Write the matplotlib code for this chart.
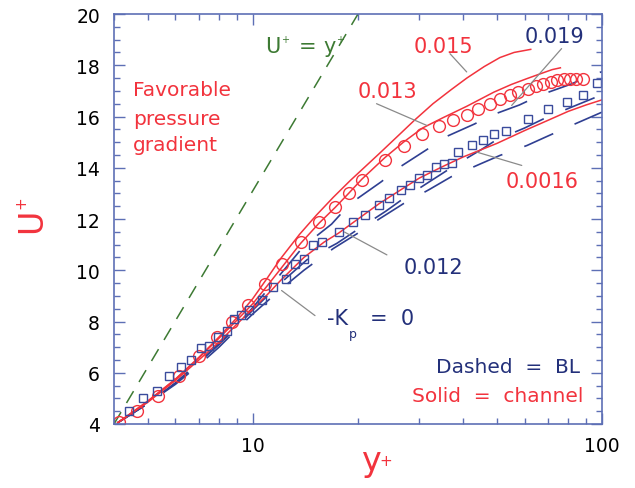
import matplotlib
matplotlib.use("Agg")
import matplotlib.pyplot as plt
from matplotlib.ticker import FixedLocator, FixedFormatter, MultipleLocator, LogLocator, NullFormatter

# ---------------- data ----------------
circ_x = [4.13, 4.64, 5.33, 6.15, 7.02, 7.9, 8.69, 9.66, 10.8, 12.1, 13.7, 15.5, 17.2, 18.8,
          20.5, 23.9, 27.1, 30.6, 34.1, 37.5, 41.0, 44.2, 47.8, 51.0, 54.5, 57.5, 61.2, 64.5,
          67.9, 71.3, 74.5, 77.8, 81.0, 84.3, 88.1]
circ_y = [4.08, 4.5, 5.1, 5.89, 6.67, 7.39, 8.0, 8.65, 9.47, 10.25, 11.1, 11.88, 12.47, 13.0,
          13.54, 14.29, 14.83, 15.3, 15.61, 15.85, 16.07, 16.3, 16.5, 16.67, 16.82, 16.95, 17.09,
          17.19, 17.28, 17.35, 17.41, 17.45, 17.48, 17.48, 17.48]

sq_x = [4.41, 4.85, 5.32, 5.75, 6.21, 6.64, 7.08, 7.5, 7.96, 8.41, 8.83, 9.23, 9.76, 10.6, 11.4,
        12.4, 13.2, 14.0, 14.9, 15.8, 17.6, 19.4, 21.0, 22.9, 24.6, 26.6, 28.2, 30.0, 31.6, 33.4,
        35.3, 37.1, 38.7, 42.3, 45.7, 49.1, 53.1, 61.5, 70.2, 79.2, 88.5, 96.6]
sq_y = [4.5, 5.0, 5.3, 5.86, 6.21, 6.51, 6.97, 7.03, 7.39, 7.64, 8.1, 8.26, 8.43, 8.82, 9.34,
        9.66, 10.25, 10.42, 11.0, 11.1, 11.49, 11.9, 12.16, 12.53, 12.82, 13.15, 13.34, 13.6,
        13.73, 14.03, 14.13, 14.18, 14.61, 14.87, 15.07, 15.33, 15.43, 15.89, 16.3, 16.56,
        16.85, 17.32]

# solid = channel
ch015_x = [4.1, 5, 6, 7, 8, 9, 10, 11, 12, 13.6, 15.2, 17, 19, 21, 23, 26.3, 29, 32.8, 37, 41,
           46, 51, 56, 62.5]
ch015_y = [4.05, 4.9, 5.75, 6.6, 7.4, 8.15, 8.9, 9.7, 10.45, 11.4, 12.15, 12.85, 13.5, 14.05,
           14.55, 15.3, 15.85, 16.5, 17.05, 17.5, 17.95, 18.3, 18.5, 18.62]

ch013_x = [4.1, 5, 6, 7, 8, 9, 10, 11, 12, 13.7, 15.5, 17.2, 18.8, 20.5, 23.9, 27, 30.6, 35,
           41, 49, 55, 61, 67, 72, 76]
ch013_y = [4.05, 4.88, 5.75, 6.58, 7.35, 8.05, 8.7, 9.4, 10.05, 11.05, 11.85, 12.45, 13.0,
           13.55, 14.4, 15.0, 15.55, 15.95, 16.4, 16.95, 17.25, 17.48, 17.68, 17.83, 17.9]

ch0016_x = [4.1, 5, 6, 7, 8, 9, 10, 11, 12, 14, 16, 17.6, 20, 23, 26.6, 30, 35, 40, 45, 50,
            60, 70, 80, 90, 100]
ch0016_y = [4.05, 4.85, 5.7, 6.5, 7.2, 7.9, 8.5, 9.05, 9.6, 10.5, 11.1, 11.45, 12.0, 12.6,
            13.15, 13.6, 14.05, 14.42, 14.7, 14.95, 15.45, 15.85, 16.2, 16.45, 16.65]

# dashed = boundary layer
bl019_x = [4.1, 5, 6, 7, 8, 9, 10, 12, 14, 16.8, 19, 23.3, 26.5, 32, 36, 43, 49.4, 58, 67, 81,
           93, 100]
bl019_y = [4.05, 4.8, 5.6, 6.4, 7.15, 7.85, 8.55, 9.85, 10.95, 11.8, 12.6, 13.45, 14.05, 14.77,
           15.23, 15.7, 16.1, 16.45, 16.85, 17.25, 17.6, 17.75]

bl012_x = [4.1, 5, 6, 7, 8, 9, 10, 12, 14.4, 17.4, 20, 24, 27, 32, 39, 45, 50, 60, 69, 83, 100]
bl012_y = [4.05, 4.8, 5.6, 6.4, 7.1, 7.8, 8.45, 9.5, 10.45, 11.05, 11.6, 12.3, 12.8, 13.45,
           14.2, 14.7, 15.1, 15.55, 15.95, 16.4, 16.85]

bl0_x = [4.1, 5, 6, 7, 8, 9, 10, 12, 14, 17, 20, 23, 27, 32, 37, 45, 51, 61, 69, 84, 100]
bl0_y = [4.05, 4.8, 5.55, 6.3, 7.0, 7.7, 8.3, 9.25, 10.0, 10.85, 11.45, 12.0, 12.6, 13.15,
         13.65, 14.16, 14.48, 14.87, 15.2, 15.72, 16.17]

# viscous sublayer U+ = y+
visc_x = [4, 20]
visc_y = [4, 20]

xtick_vals = [10, 100]
xtick_labels = ['10', '100']
ytick_vals = [4, 6, 8, 10, 12, 14, 16, 18, 20]
ytick_labels = ['4', '6', '8', '10', '12', '14', '16', '18', '20']

# ---------------- style ----------------
RED = '#f2333d'
NAVY = '#23307a'
BLUE = '#2f3f92'
SQ = '#3a4b9c'
GREEN = '#3d7a33'
SPINE = '#5d6fb5'
GRAY = '#8a8a8a'

plt.rcParams['font.family'] = ['DejaVu Sans']

fig = plt.figure(figsize=(6.35, 4.89), dpi=100)
ax = fig.add_axes([114/635, 1-425/489, (602-114)/635, (425-15)/489])
ax.set_xscale('log')
ax.set_xlim(4, 100)
ax.set_ylim(4, 20)

# lines
ax.plot(visc_x, visc_y, color=GREEN, lw=1.1, linestyle=(0, (9, 7)))
dash = (0, (19, 14))
for xs, ys in [(bl0_x, bl0_y), (bl012_x, bl012_y), (bl019_x, bl019_y)]:
    ax.plot(xs, ys, color=BLUE, lw=1.2, linestyle=dash)
for xs, ys in [(ch0016_x, ch0016_y), (ch013_x, ch013_y), (ch015_x, ch015_y)]:
    ax.plot(xs, ys, color=RED, lw=1.1)
ax.plot(circ_x, circ_y, linestyle='none', marker='o', ms=8.5, mfc='none', mec=RED, mew=1.0)
ax.plot(sq_x, sq_y, linestyle='none', marker='s', ms=6, mfc='none', mec=SQ, mew=1.0)

# leader lines
leaders = [((36.7, 18.45), (40.96, 17.74)),
           ((22.6, 16.5), (31.5, 15.65)),
           ((76.6, 18.65), (55.1, 16.43)),
           ((58.9, 14.09), (43.8, 14.61)),
           ((24.2, 10.6), (18.3, 11.49)),
           ((15.06, 8.23), (12.08, 9.21))]
for start, end in leaders:
    ax.annotate('', xy=end, xytext=start,
                arrowprops=dict(arrowstyle='-', color=GRAY, lw=0.9, shrinkA=0, shrinkB=0))


def tiny(artist, txt, frac, offset, color, size, rot=0, ha='left', va='bottom'):
    ax.annotate(txt, xy=frac, xycoords=artist, xytext=offset, textcoords='offset points',
                color=color, fontsize=size, rotation=rot, ha=ha, va=va)


# labels
fs = 15
ax.text(35.2, 18.77, '0.015', color=RED, fontsize=fs, ha='center', va='center')
ax.text(72.9, 19.14, '0.019', color=NAVY, fontsize=fs, ha='center', va='center')
ax.text(24.3, 16.99, '0.013', color=RED, fontsize=fs, ha='center', va='center')
ax.text(67.5, 13.5, '0.0016', color=RED, fontsize=fs, ha='center', va='center')
ax.text(32.8, 10.13, '0.012', color=NAVY, fontsize=fs, ha='center', va='center')

tk = ax.text(16.26, 7.91, '-K', color=NAVY, fontsize=fs, ha='left', va='baseline')
tiny(tk, 'p', (1, 0), (1, -9), NAVY, 9, va='bottom')
ax.text(21.6, 7.91, '=  0', color=NAVY, fontsize=fs, ha='left', va='baseline')

tu = ax.text(10.82, 18.52, 'U', color=GREEN, fontsize=fs, ha='left', va='baseline')
tiny(tu, '+', (1, 1), (0.5, -6), GREEN, 7, va='bottom')
ax.text(14.38, 18.52, '=', color=GREEN, fontsize=fs, ha='center', va='baseline')
ty = ax.text(15.87, 18.52, 'y', color=GREEN, fontsize=fs, ha='left', va='baseline')
tiny(ty, '+', (1, 1), (0.5, -6), GREEN, 7, va='bottom')

ax.text(4.53, 16.82, 'Favorable', color=RED, fontsize=14.5, ha='left', va='baseline')
ax.text(4.53, 15.72, 'pressure', color=RED, fontsize=14.5, ha='left', va='baseline')
ax.text(4.53, 14.68, 'gradient', color=RED, fontsize=14.5, ha='left', va='baseline')
ax.text(86.5, 6.02, 'Dashed  =  BL', color=NAVY, fontsize=14.5, ha='right', va='baseline')
ax.text(88.4, 4.91, 'Solid  =  channel', color=RED, fontsize=14.5, ha='right', va='baseline')

# axes labels
yl = fig.text(31.5/635, 1-221/489, 'U', color=RED, fontsize=24, rotation=90,
              ha='center', va='center')
fig.text(21/635, 1-203/489, '+', color=RED, fontsize=11, rotation=90,
         ha='center', va='center')
xl = fig.text(371/635, 1-471/489, 'y', color=RED, fontsize=24, ha='center', va='baseline')
fig.text(386/635, 1-462/489, '+', color=RED, fontsize=11, ha='center', va='center')

# ticks
ax.xaxis.set_major_locator(FixedLocator(xtick_vals))
ax.xaxis.set_major_formatter(FixedFormatter(xtick_labels))
ax.xaxis.set_minor_locator(LogLocator(base=10, subs=[2, 3, 4, 5, 6, 7, 8, 9]))
ax.xaxis.set_minor_formatter(NullFormatter())
ax.yaxis.set_major_locator(FixedLocator(ytick_vals))
ax.yaxis.set_major_formatter(FixedFormatter(ytick_labels))
ax.yaxis.set_minor_locator(MultipleLocator(0.5))
ax.tick_params(which='both', direction='in', top=True, right=True, color=SPINE, width=1)
ax.tick_params(which='major', length=8, labelsize=13.5, labelcolor='black')
ax.tick_params(which='minor', length=4.5)
ax.tick_params(axis='y', which='major', pad=10)
ax.tick_params(axis='x', which='major', pad=9)
for s in ax.spines.values():
    s.set_color(SPINE)
    s.set_linewidth(1.2)

fig.savefig('out.png', dpi=100)
